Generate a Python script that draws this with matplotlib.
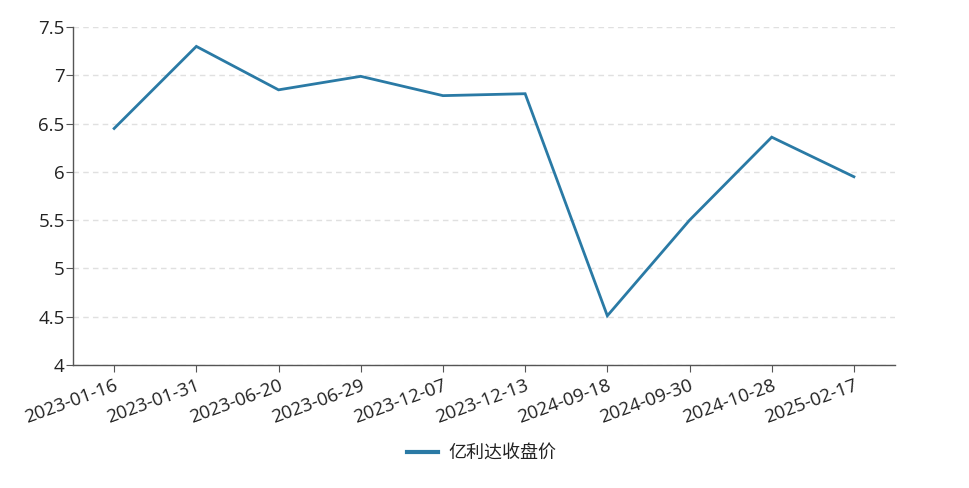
import matplotlib
matplotlib.use("Agg")
import matplotlib.pyplot as plt
import numpy as np

plt.rcParams['font.family'] = ['Open Sans', 'Noto Sans CJK SC', 'DejaVu Sans']

dates = ['2023-01-16', '2023-01-31', '2023-06-20', '2023-06-29', '2023-12-07',
         '2023-12-13', '2024-09-18', '2024-09-30', '2024-10-28', '2025-02-17']
close_price = [6.45, 7.30, 6.85, 6.99, 6.79, 6.81, 4.51, 5.50, 6.36, 5.95]
y_ticks = [4, 4.5, 5, 5.5, 6, 6.5, 7, 7.5]
y_tick_labels = ['4', '4.5', '5', '5.5', '6', '6.5', '7', '7.5']
series_name = '亿利达收盘价'

line_color = '#2a7aa5'
axis_color = '#555555'
text_color = '#222222'

fig = plt.figure(figsize=(9.7, 4.88), dpi=100)
ax = fig.add_axes([0.0753, 0.252, 0.8474, 0.6925])

xs = np.arange(len(dates))
ax.plot(xs, close_price, color=line_color, linewidth=2, label=series_name,
        solid_joinstyle='miter')

ax.set_xlim(-0.5, len(dates) - 0.5)
ax.set_ylim(4, 7.5)
ax.set_yticks(y_ticks)
ax.set_yticklabels(y_tick_labels)
ax.set_xticks(xs)
ax.set_xticklabels(dates, rotation=20, ha='right', rotation_mode='anchor')

ax.grid(axis='y', linestyle=(0, (4, 3)), color='#e0e0e0', linewidth=1)
ax.set_axisbelow(True)

for side in ['top', 'right']:
    ax.spines[side].set_visible(False)
for side in ['left', 'bottom']:
    ax.spines[side].set_color(axis_color)
    ax.spines[side].set_linewidth(1)

ax.tick_params(axis='y', length=5, color=axis_color, labelsize=13.5,
               labelcolor=text_color, pad=1)
ax.tick_params(axis='x', length=5, color=axis_color, labelsize=13.5,
               labelcolor=text_color, pad=3)

leg = fig.legend(loc='center', bbox_to_anchor=(0.497, 0.072), frameon=False,
                 fontsize=13, handlelength=1.7, handletextpad=0.6)
for t in leg.get_texts():
    t.set_color(text_color)
    t.set_family(['Noto Sans CJK SC', 'DejaVu Sans'])
for h in leg.legend_handles:
    h.set_linewidth(3)

fig.savefig('out.png', dpi=100)
